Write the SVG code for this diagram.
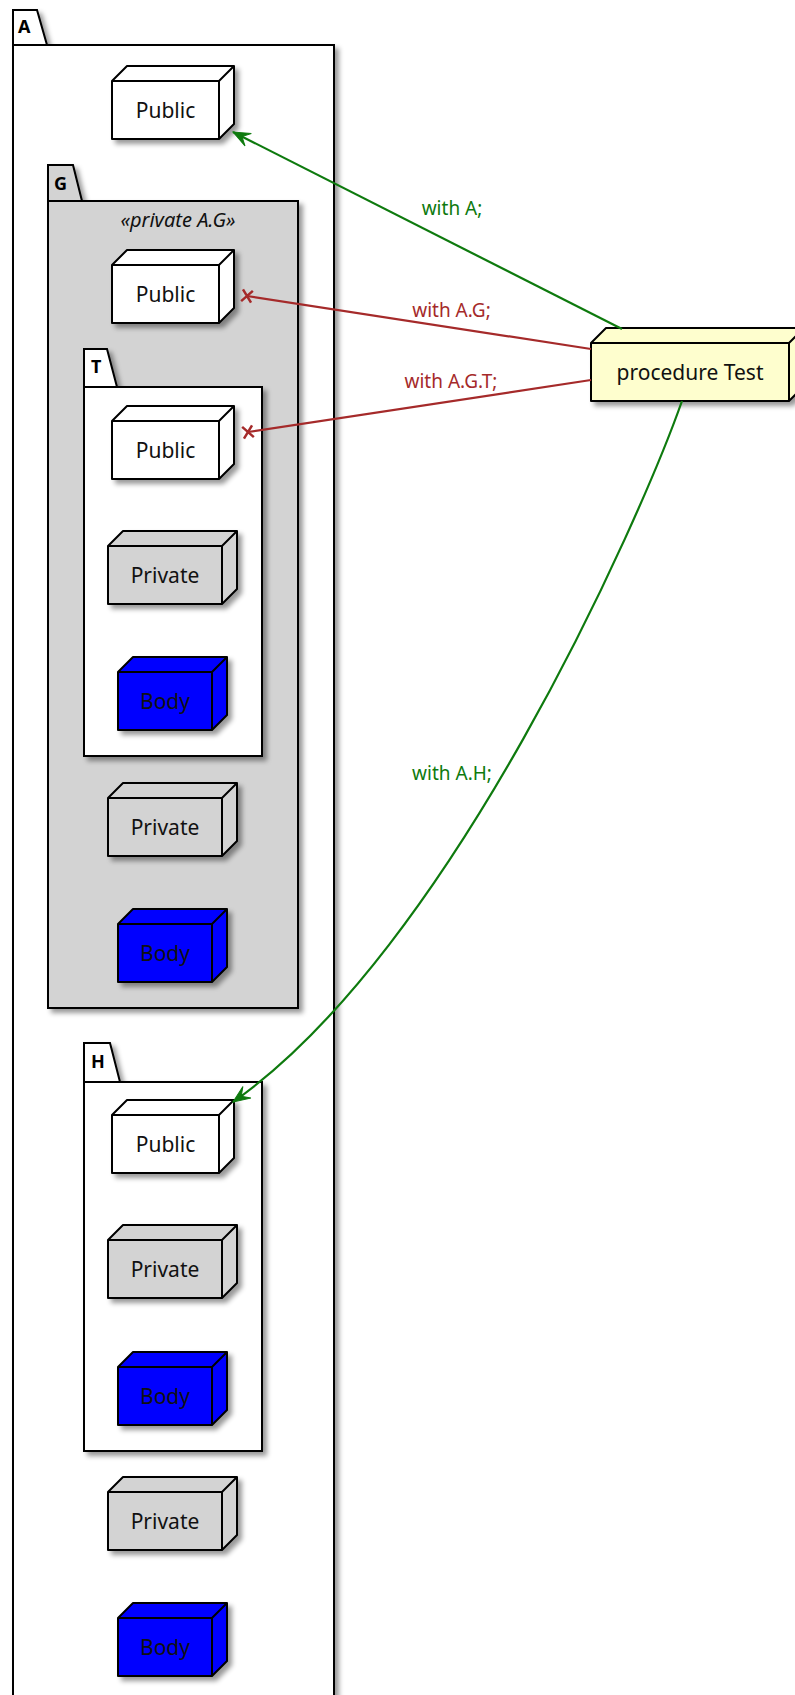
<svg xmlns="http://www.w3.org/2000/svg" width="795" height="1695" viewBox="0 0 795 1695">
<defs>
<filter id="sh" x="-10%" y="-10%" width="130%" height="130%">
<feDropShadow dx="4" dy="4" stdDeviation="2.5" flood-color="#000" flood-opacity="0.4"/>
</filter>
<marker id="arrG" markerUnits="userSpaceOnUse" viewBox="-20 -10 22 20" refX="0" refY="0" markerWidth="22" markerHeight="20" orient="auto">
<path d="M0,0 L-17,-7 L-10,0 L-17,7 Z" fill="#0E7A0E" stroke="#0E7A0E" stroke-width="1"/>
</marker>
<marker id="xR" markerUnits="userSpaceOnUse" viewBox="-10 -10 20 20" refX="0" refY="0" markerWidth="20" markerHeight="20" orient="auto">
<path d="M-5,-6 L5,6 M-5,6 L5,-6" fill="none" stroke="#A52A2A" stroke-width="2.5"/>
</marker>
</defs>
<style>
.pk{stroke:#000;stroke-width:2;filter:url(#sh)}
.nd{stroke:#000;stroke-width:2;stroke-linejoin:round}
.ln{fill:none;stroke:#000;stroke-width:2}
.lbl{font-family:"Noto Sans","Open Sans",sans-serif;font-size:21px;text-anchor:middle;fill:#111}
.pt{font-family:"Noto Sans","Open Sans",sans-serif;font-size:18px;font-weight:bold;fill:#000}
.st{font-family:"Noto Sans","Open Sans",sans-serif;font-size:20px;font-style:italic;text-anchor:middle;fill:#111}
.cg{font-family:"Noto Sans","Open Sans",sans-serif;font-size:19px;text-anchor:middle;fill:#0E7A0E}
.cr{font-family:"Noto Sans","Open Sans",sans-serif;font-size:19px;text-anchor:middle;fill:#A52A2A}
.white{fill:#fff}
.gray{fill:#D3D3D3}
.blue{fill:#0000FF}
.yellow{fill:#FEFECE}
</style>

<g id="pkgA">
<path class="pk white" d="M13,45 L13,10 L37,10 L47,45 L334,45 L334,1720 L13,1720 Z"/>
<path class="ln" d="M13,45 L47,45"/>
<text class="pt" x="18" y="33">A</text>
</g>
<g id="pkgG">
<path class="pk gray" d="M48,201 L48,165 L73,165 L82,201 L298,201 L298,1008 L48,1008 Z"/>
<path class="ln" d="M48,201 L82,201"/>
<text class="pt" x="54" y="190">G</text>
<text class="st" x="178" y="227">«private A.G»</text>
</g>
<g id="pkgT">
<path class="pk white" d="M84,387 L84,349 L107,349 L117,387 L262,387 L262,756 L84,756 Z"/>
<path class="ln" d="M84,387 L117,387"/>
<text class="pt" x="91" y="373">T</text>
</g>
<g id="pkgH">
<path class="pk white" d="M84,1082 L84,1043 L110,1043 L120,1082 L262,1082 L262,1451 L84,1451 Z"/>
<path class="ln" d="M84,1082 L120,1082"/>
<text class="pt" x="91" y="1068">H</text>
</g>

<g id="A_Public">
<path class="nd white" filter="url(#sh)" d="M112,81 L127,66 L234,66 L234,124 L219,139 L112,139 Z"/>
<path class="ln" d="M112,81 L219,81 L234,66 M219,81 L219,139"/>
<text class="lbl" x="165.5" y="118">Public</text>
</g>
<g id="G_Public">
<path class="nd white" filter="url(#sh)" d="M112,265 L127,250 L234,250 L234,308 L219,323 L112,323 Z"/>
<path class="ln" d="M112,265 L219,265 L234,250 M219,265 L219,323"/>
<text class="lbl" x="165.5" y="302">Public</text>
</g>
<g id="T_Public">
<path class="nd white" filter="url(#sh)" d="M112,421 L127,406 L234,406 L234,464 L219,479 L112,479 Z"/>
<path class="ln" d="M112,421 L219,421 L234,406 M219,421 L219,479"/>
<text class="lbl" x="165.5" y="458">Public</text>
</g>
<g id="T_Private">
<path class="nd gray" filter="url(#sh)" d="M108,546 L123,531 L237,531 L237,589 L222,604 L108,604 Z"/>
<path class="ln" d="M108,546 L222,546 L237,531 M222,546 L222,604"/>
<text class="lbl" x="165" y="583">Private</text>
</g>
<g id="T_Body">
<path class="nd blue" filter="url(#sh)" d="M118,672 L133,657 L227,657 L227,715 L212,730 L118,730 Z"/>
<path class="ln" d="M118,672 L212,672 L227,657 M212,672 L212,730"/>
<text class="lbl" x="165" y="709">Body</text>
</g>
<g id="G_Private">
<path class="nd gray" filter="url(#sh)" d="M108,798 L123,783 L237,783 L237,841 L222,856 L108,856 Z"/>
<path class="ln" d="M108,798 L222,798 L237,783 M222,798 L222,856"/>
<text class="lbl" x="165" y="835">Private</text>
</g>
<g id="G_Body">
<path class="nd blue" filter="url(#sh)" d="M118,924 L133,909 L227,909 L227,967 L212,982 L118,982 Z"/>
<path class="ln" d="M118,924 L212,924 L227,909 M212,924 L212,982"/>
<text class="lbl" x="165" y="961">Body</text>
</g>
<g id="H_Public">
<path class="nd white" filter="url(#sh)" d="M112,1115 L127,1100 L234,1100 L234,1158 L219,1173 L112,1173 Z"/>
<path class="ln" d="M112,1115 L219,1115 L234,1100 M219,1115 L219,1173"/>
<text class="lbl" x="165.5" y="1152">Public</text>
</g>
<g id="H_Private">
<path class="nd gray" filter="url(#sh)" d="M108,1240 L123,1225 L237,1225 L237,1283 L222,1298 L108,1298 Z"/>
<path class="ln" d="M108,1240 L222,1240 L237,1225 M222,1240 L222,1298"/>
<text class="lbl" x="165" y="1277">Private</text>
</g>
<g id="H_Body">
<path class="nd blue" filter="url(#sh)" d="M118,1367 L133,1352 L227,1352 L227,1410 L212,1425 L118,1425 Z"/>
<path class="ln" d="M118,1367 L212,1367 L227,1352 M212,1367 L212,1425"/>
<text class="lbl" x="165" y="1404">Body</text>
</g>
<g id="A_Private">
<path class="nd gray" filter="url(#sh)" d="M108,1492 L123,1477 L237,1477 L237,1535 L222,1550 L108,1550 Z"/>
<path class="ln" d="M108,1492 L222,1492 L237,1477 M222,1492 L222,1550"/>
<text class="lbl" x="165" y="1529">Private</text>
</g>
<g id="A_Body">
<path class="nd blue" filter="url(#sh)" d="M118,1618 L133,1603 L227,1603 L227,1661 L212,1676 L118,1676 Z"/>
<path class="ln" d="M118,1618 L212,1618 L227,1603 M212,1618 L212,1676"/>
<text class="lbl" x="165" y="1655">Body</text>
</g>
<g id="Test">
<path class="nd yellow" filter="url(#sh)" d="M591,343 L606,328 L804,328 L804,386 L789,401 L591,401 Z"/>
<path class="ln" d="M591,343 L789,343 L804,328 M789,343 L789,401"/>
<text class="lbl" x="690" y="380">procedure Test</text>
</g>

<g id="connectors">
<path d="M622,329 L233,132" fill="none" stroke="#0E7A0E" stroke-width="2.2" marker-end="url(#arrG)"/>
<path d="M591,349 L247,296" fill="none" stroke="#A52A2A" stroke-width="2.2" marker-end="url(#xR)"/>
<path d="M591,380 L248,432" fill="none" stroke="#A52A2A" stroke-width="2.2" marker-end="url(#xR)"/>
<path d="M682,401 C640,520 450,950 233,1102" fill="none" stroke="#0E7A0E" stroke-width="2.2" marker-end="url(#arrG)"/>
<text class="cg" x="452" y="215">with A;</text>
<text class="cr" x="451.5" y="317">with A.G;</text>
<text class="cr" x="451" y="388">with A.G.T;</text>
<text class="cg" x="452" y="780">with A.H;</text>
</g>
</svg>
